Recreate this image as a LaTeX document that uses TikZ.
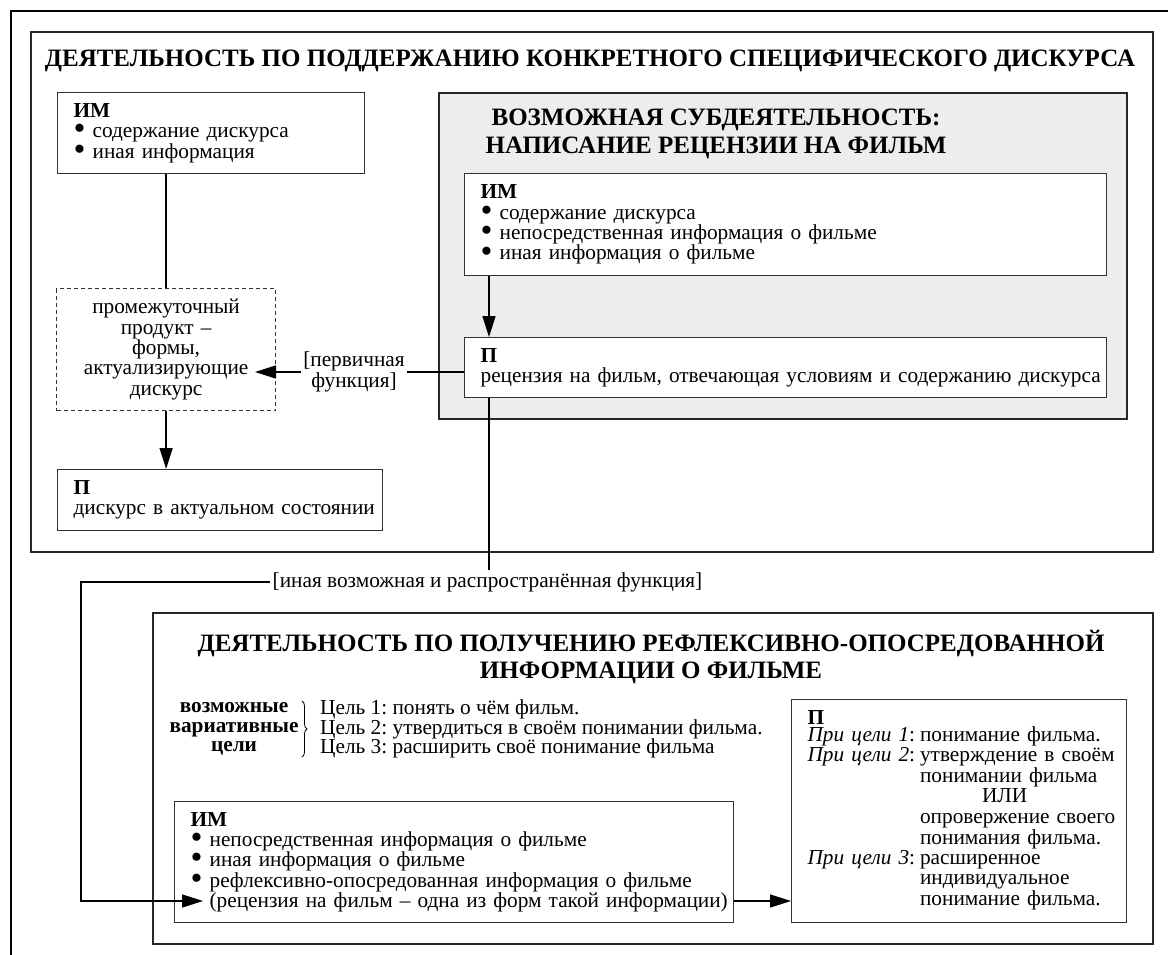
\documentclass[tikz,border=0pt]{standalone}
\usepackage{fontspec}
\setmainfont{Liberation Serif}[BoldFont={Liberation Serif Bold}, ItalicFont={Liberation Serif Italic}]
\usetikzlibrary{arrows.meta,decorations.pathreplacing}
\newcommand{\bul}{\smash{\raisebox{-0.1em}{\scalebox{1.6}{\textbullet}}}}
\definecolor{greyfill}{RGB}{237,237,237}

\begin{document}
\begin{tikzpicture}[x=1pt, y=-1pt, font=\fontsize{21.3}{20.4}\selectfont\frenchspacing,
  box/.style={draw=black!80, line width=1.2pt, fill=white, anchor=north west, align=left, inner xsep=16pt, inner ysep=0pt},
  frame/.style={draw=black!85, line width=1.8pt, anchor=north west, inner sep=0pt},
  title/.style={font=\fontsize{25}{27.5}\selectfont\bfseries, align=center},
  lbl/.style={align=center, inner sep=2pt},
  conn/.style={line width=1.4pt},
  arr/.style={-{Triangle[length=21pt,width=13pt]}, line width=1.4pt}]

\useasboundingbox (0,0) rectangle (1168,955);
\draw[line width=2.2pt] (1168,11) -- (10.7,11) -- (10.7,955);

\node[frame, minimum width=1122pt, minimum height=520pt] (upper) at (30,31) {};
\node[title] (t1) at (590,61) {ДЕЯТЕЛЬНОСТЬ ПО ПОДДЕРЖАНИЮ КОНКРЕТНОГО СПЕЦИФИЧЕСКОГО ДИСКУРСА};

\node[box, text width=275pt, minimum height=81pt] (im1) at (57,92) {\textbf{ИМ}\\\bul\ содержание дискурса\\\bul\ иная информация};
\node[box, dashed, dash pattern=on 4pt off 3pt, align=center, text width=187pt, minimum height=122pt] (dash) at (56,288) {промежуточный\\продукт –\\формы,\\актуализирующие\\дискурс};
\node[box, text width=293pt, minimum height=61pt] (p1) at (57,469) {\textbf{П}\\\mbox{дискурс в актуальном состоянии}};

\node[frame, fill=greyfill, minimum width=688pt, minimum height=326pt] (grey) at (438,92) {};
\node[title, font=\fontsize{25}{28}\selectfont\bfseries] (t2) at (716,134) {ВОЗМОЖНАЯ СУБДЕЯТЕЛЬНОСТЬ:\\НАПИСАНИЕ РЕЦЕНЗИИ НА ФИЛЬМ};
\node[box, text width=610pt, minimum height=102pt] (im2) at (464,173) {\textbf{ИМ}\\\bul\ содержание дискурса\\\bul\ непосредственная информация о фильме\\\bul\ иная информация о фильме};
\node[box, text width=610pt, minimum height=60pt] (p2) at (464,337) {\textbf{П}\\\mbox{рецензия на фильм, отвечающая условиям и содержанию дискурса}};

\node[lbl] (perv) at (354,372) {[первичная\\функция]};
\coordinate (dtip) at (255,372);
\node[lbl] (other) at (487.5,582) {[иная возможная и распространённая функция]};

\node[frame, minimum width=1000pt, minimum height=331pt] (lower) at (152,612) {};
\node[title] (t3) at (651,657) {ДЕЯТЕЛЬНОСТЬ ПО ПОЛУЧЕНИЮ РЕФЛЕКСИВНО-ОПОСРЕДОВАННОЙ\\ИНФОРМАЦИИ О ФИЛЬМЕ};

\node[font=\fontsize{21.3}{19.5}\selectfont\bfseries, align=center] (goal) at (234,729) {возможные\\вариативные\\цели};
\node[font=\fontsize{21.3}{19.5}\selectfont\frenchspacing, anchor=west, align=left, inner sep=0pt] (aims) at (320,729) {Цель 1: понять о чём фильм.\\Цель 2: утвердиться в своём понимании фильма.\\Цель 3: расширить своё понимание фильма};
\draw[line width=0.8pt, decorate, decoration={brace, amplitude=5pt}] (302,701) -- (302,757);

\node[box, text width=527pt, minimum height=121pt] (im3) at (174,801) {\textbf{ИМ}\\\bul\ непосредственная информация о фильме\\\bul\ иная информация о фильме\\\bul\ рефлексивно-опосредованная информация о фильме\\\mbox{\phantom{\bul}\ (рецензия на фильм – одна из форм такой информации)}};
\node[box, text width=303pt, minimum height=223pt] (p3) at (791,699) {\textbf{П}\\[1pt]
\begin{tabular}{@{}l@{\hspace{5pt}}l@{}}
\textit{При цели 1}: & понимание фильма.\\
\textit{При цели 2}: & утверждение в своём\\
 & понимании фильма\\
 & \hspace*{62pt}ИЛИ\\
 & опровержение своего\\
 & понимания фильма.\\
\textit{При цели 3}: & расширенное\\
 & индивидуальное\\
 & понимание фильма.
\end{tabular}};

\coordinate (pdrop) at ([xshift=25pt]p2.south west);
\coordinate (bend) at (81,901);
\coordinate (tip3) at (203,901);

\draw[conn] (dash.north |- im1.south) -- (dash.north);
\draw[arr] (dash.south) -- (dash.south |- p1.north);
\draw[arr] ([xshift=25pt]im2.south west) -- ([xshift=25pt]p2.north west);
\draw[conn] (p2.west |- perv) -- (perv.east);
\draw[arr] (perv.west) -- (dtip);
\draw[conn] (pdrop) -- (pdrop |- other.north);
\draw[arr] (other.west) -| (bend) -- (tip3);
\draw[arr] (im3.east |- tip3) -- (p3.west |- tip3);

\end{tikzpicture}
\end{document}
